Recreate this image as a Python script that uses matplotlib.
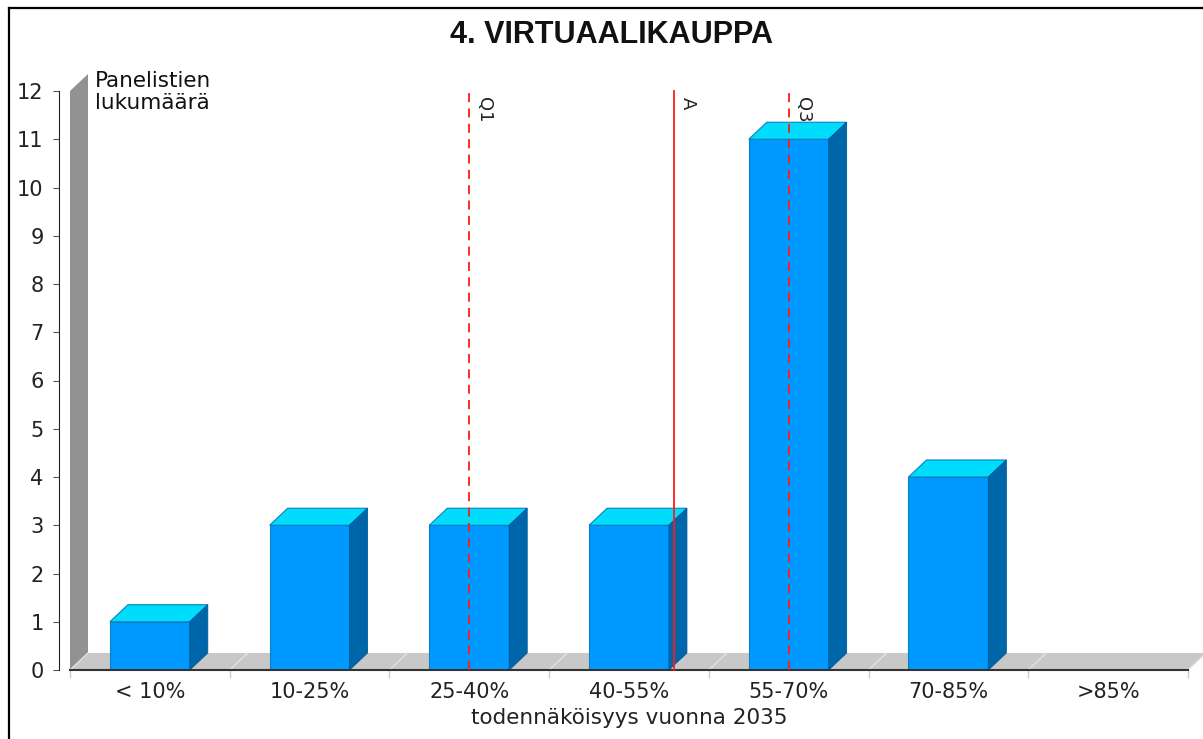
import matplotlib
matplotlib.use('Agg')
import matplotlib.pyplot as plt
from matplotlib.patches import Polygon
from matplotlib.lines import Line2D

# data
categories = ['< 10%', '10-25%', '25-40%', '40-55%', '55-70%', '70-85%', '>85%']
counts = [1, 3, 3, 3, 11, 4, 0]
# marker lines, in category position units (0 = first category centre)
marker_names = ['Q1', 'A', 'Q3']
marker_pos = [2.0, 3.28, 4.0]
marker_style = ['--', '-', '--']

title = '4. VIRTUAALIKAUPPA'
ylabel = 'Panelistien\nlukumäärä'
xlabel = 'todennäköisyys vuonna 2035'

W, H = 1203, 739
fig = plt.figure(figsize=(W / 100, H / 100), dpi=100)
plt.rcParams['font.family'] = ['DejaVu Sans']

# plot area in pixels: x 70..1188, y 670 (zero)..91 (twelve)
left, right, bottom, top = 70, 1188, 670, 91
ax = fig.add_axes([left / W, (H - bottom) / H, (right - left) / W, (bottom - top) / H])
ax.set_xlim(-0.5, len(categories) - 0.5)
ax.set_ylim(0, 12)

# depth offset of the pseudo-3D look
px_x = (right - left) / len(categories)
px_y = (bottom - top) / 12
dx = 18 / px_x
dy = 17 / px_y

x0, x1 = -0.5, len(categories) - 0.5

# left wall and floor
wall = Polygon([(x0, 0), (x0, 12), (x0 + dx, 12 + dy), (x0 + dx, dy)],
               closed=True, facecolor='#929292', edgecolor='none', clip_on=False, zorder=1)
ax.add_patch(wall)
floor = Polygon([(x0, 0), (x1, 0), (x1 + dx, dy), (x0 + dx, dy)],
                closed=True, facecolor='#c8c8c8', edgecolor='none', clip_on=False, zorder=1.5)
ax.add_patch(floor)
for b in range(len(categories) + 1):
    ax.plot([x0 + b, x0 + b + dx], [0, dy], color='#e2e2e2', lw=1, clip_on=False, zorder=1.6)

# bars: front face, top and side
bw = 0.5
front_c, top_c, side_c, edge_c = '#0099ff', '#00dcfc', '#0066aa', '#0a80c0'
for i, v in enumerate(counts):
    if v == 0:
        continue
    xl, xr = i - bw / 2, i + bw / 2
    ax.bar(i, v, width=bw, color=front_c, edgecolor=edge_c, linewidth=0.8, zorder=3)
    ax.add_patch(Polygon([(xl, v), (xr, v), (xr + dx, v + dy), (xl + dx, v + dy)],
                         closed=True, facecolor=top_c, edgecolor=edge_c, lw=0.8,
                         clip_on=False, zorder=3))
    ax.add_patch(Polygon([(xr, 0), (xr + dx, dy), (xr + dx, v + dy), (xr, v)],
                         closed=True, facecolor=side_c, edgecolor='#005a99', lw=0.6,
                         clip_on=False, zorder=3))

# quartile / average lines
for name, pos, ls in zip(marker_names, marker_pos, marker_style):
    ax.plot([pos, pos], [0, 12], color='#ff1a1a', lw=1.3, ls=ls,
            dashes=(5, 3.5) if ls == '--' else (None, None), zorder=5, clip_on=False)
    ax.annotate(name, xy=(pos, 12), xytext=(4, -4), textcoords='offset points',
                rotation=-90, ha='left', va='top', fontsize=13, color='#222222', zorder=6)

# axes styling
for s in ['top', 'right']:
    ax.spines[s].set_visible(False)
ax.spines['left'].set_position(('outward', 8))
ax.spines['left'].set_color('#222222')
ax.spines['bottom'].set_color('#333333')
ax.spines['bottom'].set_linewidth(1.5)
ax.spines['bottom'].set_zorder(4)

ax.set_yticks(range(0, 13))
ax.tick_params(axis='y', length=4, width=0.8, color='#555555', pad=7,
               labelsize=15, labelcolor='#222222')

ax.set_xticks([x0 + b for b in range(len(categories) + 1)])
ax.set_xticklabels([])
ax.set_xticks(range(len(categories)), minor=True)
ax.set_xticklabels(categories, minor=True)
ax.tick_params(axis='x', which='major', length=6, width=1, color='#cccccc')
ax.tick_params(axis='x', which='minor', length=0, pad=9, labelsize=15, labelcolor='#222222')
ax.set_xlabel(xlabel, fontsize=15.5, color='#222222', labelpad=4)

ax.patch.set_visible(False)

fig.text(612 / W, 1 - 35 / H, title, ha='center', va='center',
         fontsize=22, fontweight='bold', family='Liberation Sans', color='#111111')
fig.text(95 / W, 1 - 71 / H, ylabel, ha='left', va='top', fontsize=15.5,
         color='#111111', linespacing=1.1)

# frame around the picture (left and top only are visible)
fig.add_artist(Line2D([8.5 / W, 8.5 / W], [0, 1 - 7.5 / H], color='black', lw=1.6))
fig.add_artist(Line2D([8.5 / W, 1], [1 - 7.5 / H, 1 - 7.5 / H], color='black', lw=1.6))

fig.savefig('out.png', dpi=100)
